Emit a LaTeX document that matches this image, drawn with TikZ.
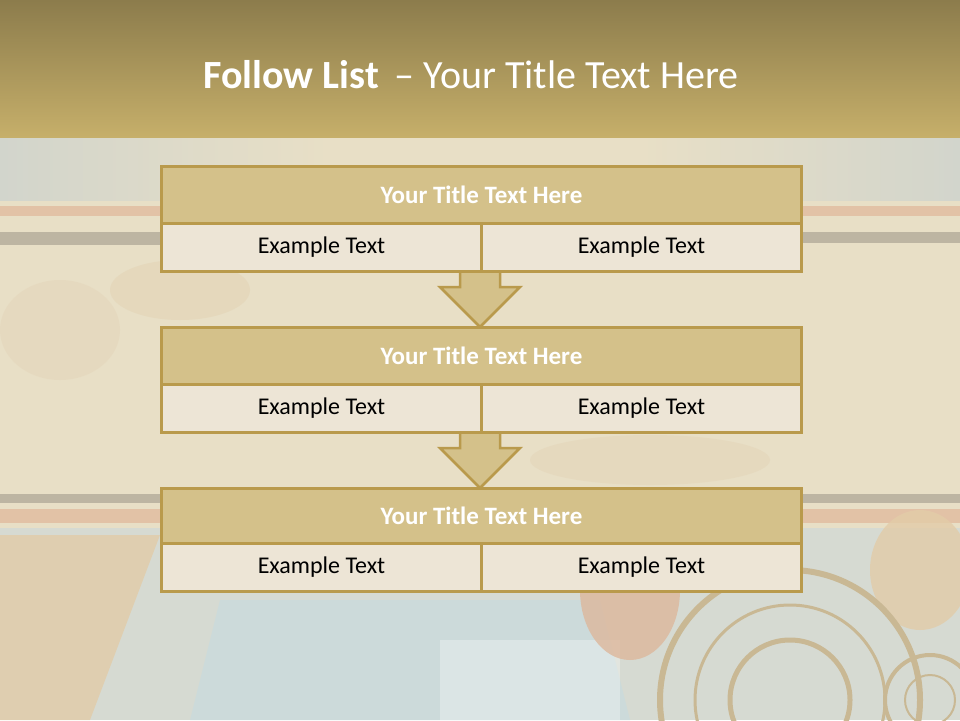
\documentclass[tikz,border=0pt]{standalone}
\usepackage{fontspec}
\setmainfont{Carlito}
\begin{document}
\begin{tikzpicture}[x=1pt,y=-1pt,
  gold/.style={draw=boxgold,line width=3pt},
  titlebox/.style={gold,fill=titlefill},
  bodybox/.style={gold,fill=bodyfill},
  arrowshape/.style={draw=boxgold,line width=2.5pt,fill=titlefill,line join=miter},
  titletext/.style={text=white,font=\fontsize{25}{30}\selectfont\bfseries},
  bodytext/.style={text=black,font=\fontsize{24}{29}\selectfont}]
\definecolor{boxgold}{HTML}{B99A4C}
\definecolor{titlefill}{HTML}{D4C18A}
\definecolor{bodyfill}{HTML}{EDE5D6}
\definecolor{hdtop}{HTML}{8C7C4C}
\definecolor{hdbot}{HTML}{C6AF6A}
\definecolor{paper}{HTML}{E8DFC6}
\definecolor{bluish}{HTML}{D2D5CC}
\definecolor{salmon}{HTML}{E2C2A6}
\definecolor{greyish}{HTML}{BDB5A2}
\definecolor{lowblue}{HTML}{D6DAD2}
\definecolor{loworange}{HTML}{E2CCA8}
\definecolor{lowred}{HTML}{DDB79C}
\definecolor{ring}{HTML}{C9B894}
\useasboundingbox (0,0) rectangle (960,720);
% background
\fill[paper] (0,137) rectangle (960,720);
\fill[left color=bluish,right color=paper] (0,137) rectangle (330,200);
\fill[right color=bluish,left color=paper] (640,137) rectangle (960,200);
% upper stripes
\fill[salmon] (0,206) rectangle (160,216);
\fill[greyish] (0,232) rectangle (160,245);
\fill[salmon] (800,206) rectangle (960,216);
\fill[greyish] (800,232) rectangle (960,243);
% parchment patches
\fill[color=brown!12!paper,opacity=0.6] (180,290) ellipse (70 and 30);
\fill[color=brown!10!paper,opacity=0.6] (650,460) ellipse (120 and 25);
\fill[color=brown!10!paper,opacity=0.5] (60,330) ellipse (60 and 50);
% lower stripes
\fill[greyish] (0,494) rectangle (160,503);
\fill[salmon] (0,509) rectangle (160,523);
\fill[greyish] (800,494) rectangle (960,503);
\fill[salmon] (800,509) rectangle (960,523);
% lower colourful region
\fill[lowblue] (0,528) rectangle (960,720);
\fill[loworange,opacity=0.8] (0,535) -- (160,535) -- (90,720) -- (0,720) -- cycle;
\fill[color=cyan!8!lowblue] (220,600) -- (600,600) -- (630,720) -- (190,720) -- cycle;
\fill[color=white,opacity=0.3] (440,640) rectangle (620,720);
\fill[lowred,opacity=0.8] (630,590) ellipse (50 and 70);
\fill[loworange,opacity=0.8] (920,570) ellipse (50 and 60);
\draw[ring,line width=6pt] (790,700) circle (130);
\draw[ring,line width=3pt] (790,700) circle (95);
\draw[ring,line width=5pt] (790,700) circle (60);
\draw[ring,line width=4pt] (930,700) circle (45);
\draw[ring,line width=2pt] (930,700) circle (25);
% header
\shade[top color=hdtop,bottom color=hdbot] (0,0) rectangle (960,137);
\node[text=white,font=\fontsize{40}{46}\selectfont] (heading) at (471,75)
  {\textbf{Follow List}\, – Your Title Text Here};
% arrows (behind boxes)
\draw[arrowshape] (460,268) -- (460,287) -- (440,287) -- (480,327) -- (520,287) -- (500,287) -- (500,268);
\draw[arrowshape] (460,429) -- (460,448) -- (440,448) -- (480,488) -- (520,448) -- (500,448) -- (500,429);
% box 1
\node[titlebox,minimum width=640pt,minimum height=57pt,anchor=north west,inner sep=0pt] (t1) at (160,165) {};
\node[titletext] at (t1.center) {Your Title Text Here};
\node[bodybox,minimum width=320pt,minimum height=48pt,anchor=north west,inner sep=0pt] (a1) at (160,222) {};
\node[bodybox,minimum width=320pt,minimum height=48pt,anchor=north west,inner sep=0pt] (b1) at (480,222) {};
\node[bodytext] at (a1.center) {Example Text};
\node[bodytext] at (b1.center) {Example Text};
% box 2
\node[titlebox,minimum width=640pt,minimum height=57pt,anchor=north west,inner sep=0pt] (t2) at (160,326) {};
\node[titletext] at (t2.center) {Your Title Text Here};
\node[bodybox,minimum width=320pt,minimum height=48pt,anchor=north west,inner sep=0pt] (a2) at (160,383) {};
\node[bodybox,minimum width=320pt,minimum height=48pt,anchor=north west,inner sep=0pt] (b2) at (480,383) {};
\node[bodytext] at (a2.center) {Example Text};
\node[bodytext] at (b2.center) {Example Text};
% box 3
\node[titlebox,minimum width=640pt,minimum height=55pt,anchor=north west,inner sep=0pt] (t3) at (160,487) {};
\node[titletext] at (t3.center) {Your Title Text Here};
\node[bodybox,minimum width=320pt,minimum height=48pt,anchor=north west,inner sep=0pt] (a3) at (160,542) {};
\node[bodybox,minimum width=320pt,minimum height=48pt,anchor=north west,inner sep=0pt] (b3) at (480,542) {};
\node[bodytext] at (a3.center) {Example Text};
\node[bodytext] at (b3.center) {Example Text};
\end{tikzpicture}
\end{document}
